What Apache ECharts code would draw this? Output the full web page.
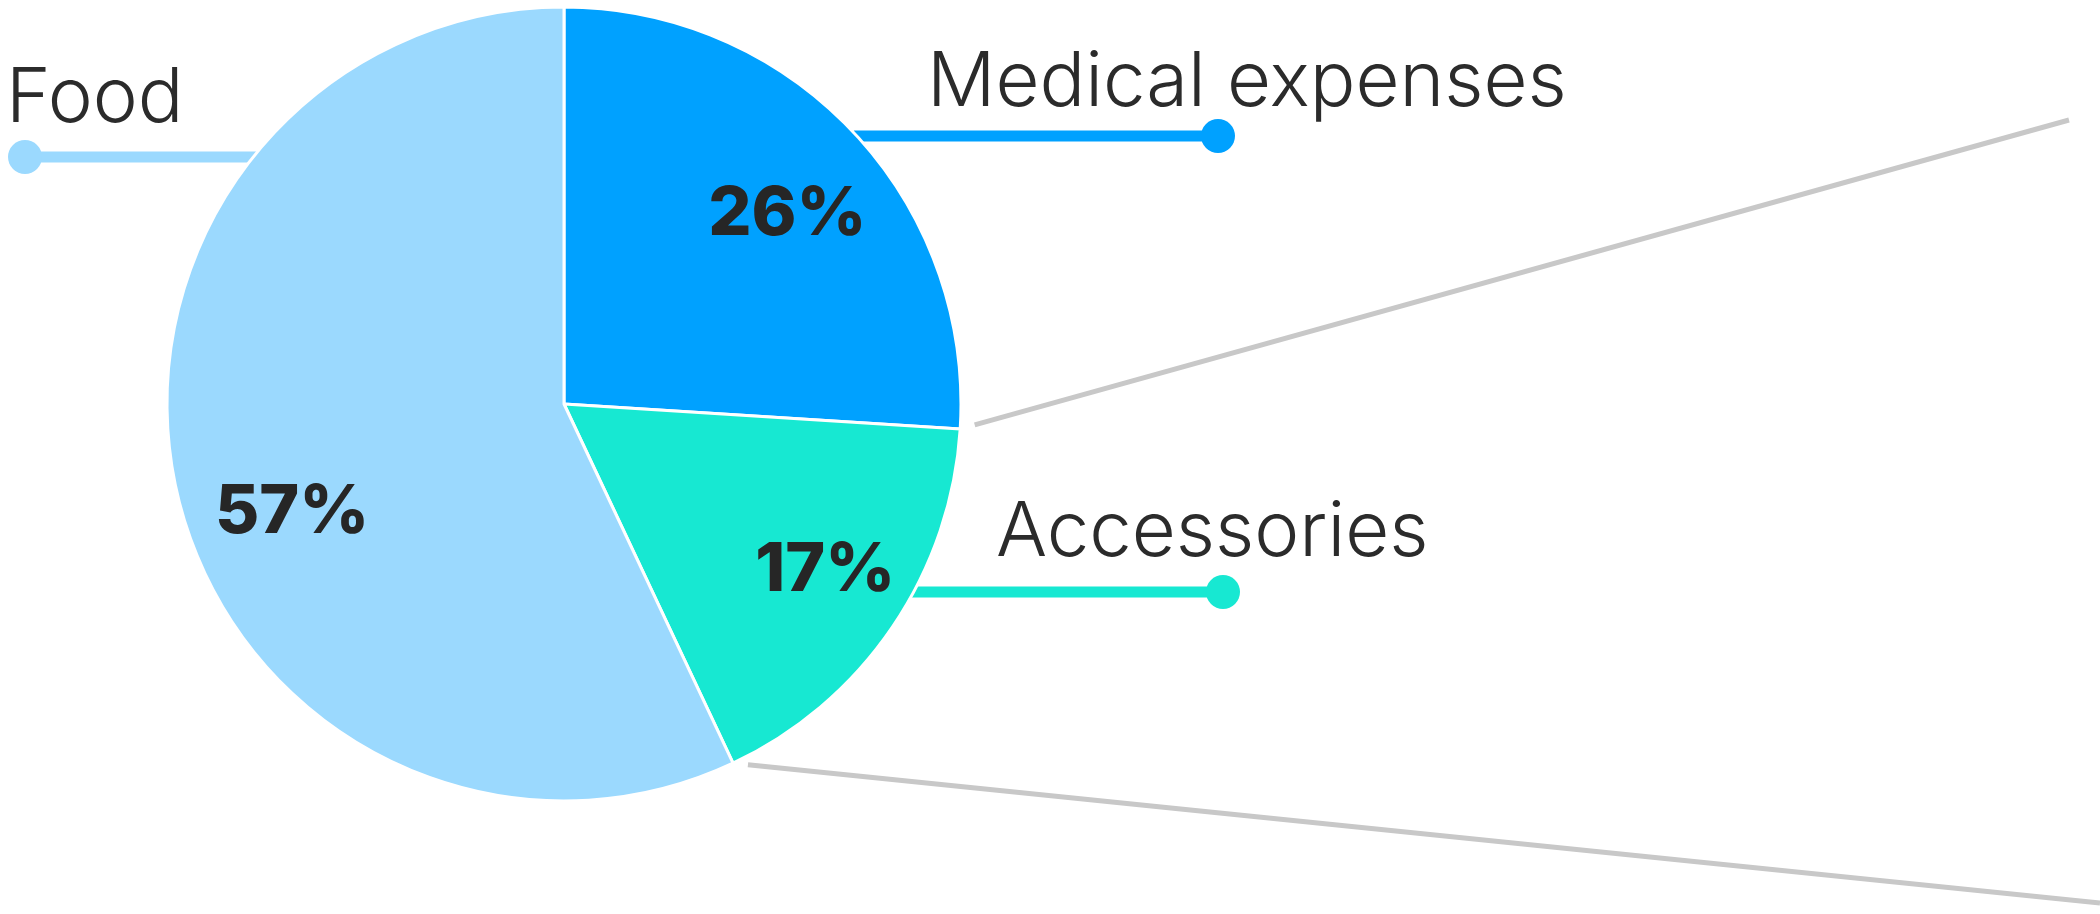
<!DOCTYPE html>
<html><head><meta charset="utf-8">
<script src="https://cdn.jsdelivr.net/npm/echarts@6/dist/echarts.min.js"></script>
<style>html,body{margin:0;padding:0;background:#fff;}#c{width:2100px;height:914px;}</style>
</head><body><div id="c"></div>
<script>
// ---- data ----
const categories = ['Medical expenses', 'Accessories', 'Food'];
const shares = [26, 17, 57];
const sliceColors = ['#00A1FF', '#17E8D2', '#9BD9FE'];

// ---- layout (pixels) ----
const CX = 564, CY = 404, R = 397;
const FONT = 'Inter, "Open Sans", sans-serif';
const outerLabels = {
  'Medical expenses': { lineY: 136, dotX: 1218, textX: 927, baseY: 107, side: 1 },
  'Accessories':      { lineY: 592, dotX: 1223, textX: 996, baseY: 557, side: 1 },
  'Food':             { lineY: 157, dotX: 25,   textX: 6,   baseY: 123, side: -1 }
};
const pctRadius = 294;
const pctOffsets = [[9, 12], [18, 1], [15, 44]];
const connectorEnds = [[2069, 120], [2100, 903]];
const connectorGap = 15;

const total = shares.reduce((a, b) => a + b, 0);
const cum = [];
shares.reduce((acc, v, i) => { cum[i] = acc; return acc + v; }, 0);
const ang = f => f / total * 2 * Math.PI; // clockwise from top
const pt = (a, r) => [CX + r * Math.sin(a), CY - r * Math.cos(a)];

const graphics = [];
// outer labels: line + dot + text
categories.forEach((name, i) => {
  const L = outerLabels[name];
  const dy = L.lineY - CY;
  const edgeX = CX + L.side * (Math.sqrt(R * R - dy * dy) - 3);
  graphics.push({ type: 'line', z: 0, shape: { x1: edgeX, y1: L.lineY, x2: L.dotX, y2: L.lineY },
    style: { stroke: sliceColors[i], lineWidth: 11 } });
  graphics.push({ type: 'circle', z: 0, shape: { cx: L.dotX, cy: L.lineY, r: 17 },
    style: { fill: sliceColors[i] } });
  graphics.push({ type: 'text', z: 5, x: L.textX, y: L.baseY - 24,
    style: { text: name, fill: '#2B2B2B', font: '350 76px ' + FONT,
      textAlign: 'left', textVerticalAlign: 'middle', align: 'left', verticalAlign: 'middle' } });
});
// connector lines from slice boundaries
[1, 2].forEach((k, j) => {
  const P = pt(ang(cum[k]), R);
  const E = connectorEnds[j];
  const dx = E[0] - P[0], dy = E[1] - P[1], d = Math.hypot(dx, dy);
  graphics.push({ type: 'line', z: 0, shape: {
      x1: P[0] + dx / d * connectorGap, y1: P[1] + dy / d * connectorGap, x2: E[0], y2: E[1] },
    style: { stroke: '#C8C8C8', lineWidth: 5 } });
});

const chart = echarts.init(document.getElementById('c'));
chart.setOption({
  animation: false,
  backgroundColor: '#fff',
  graphic: { elements: graphics },
  series: [{
    type: 'pie',
    z: 2,
    center: [CX, CY],
    radius: [0, R],
    startAngle: 90,
    clockwise: true,
    avoidLabelOverlap: false,
    emphasis: { disabled: true },
    itemStyle: { borderColor: '#fff', borderWidth: 3 },
    label: {
      show: true, position: 'inside',
      formatter: p => shares[p.dataIndex] + '%',
      color: '#262626', fontFamily: FONT, fontWeight: 800, fontSize: 68
    },
    labelLine: { show: false },
    labelLayout: p => {
      const i = p.dataIndex;
      const a = ang(cum[i] + shares[i] / 2);
      const q = pt(a, pctRadius);
      return { x: q[0] + pctOffsets[i][0], y: q[1] + pctOffsets[i][1], align: 'center', verticalAlign: 'middle' };
    },
    data: categories.map((n, i) => ({ name: n, value: shares[i], itemStyle: { color: sliceColors[i] } }))
  }]
});
</script></body></html>
